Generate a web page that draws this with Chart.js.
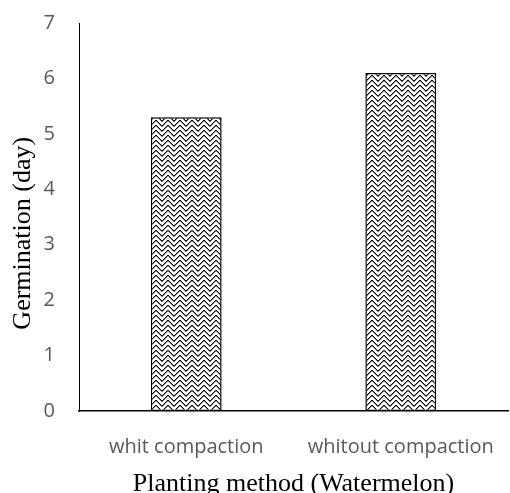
<!DOCTYPE html>
<html>
<head>
<meta charset="utf-8">
<script src="https://cdn.jsdelivr.net/npm/chart.js@4"></script>
<style>
	html, body { margin: 0; padding: 0; background: #fff; overflow: hidden; }
	canvas { display: block; }
</style>
</head>
<body>
<canvas id="germ-canvas" width="510" height="500"></canvas>
<script>
const categories = ["whit compaction", "whitout compaction"];
const germDays = [5.3, 6.1];
const yTicks = [0, 1, 2, 3, 4, 5, 6, 7];

// zigzag fill tile, close to the Excel pattern fill in the picture
function makePattern() {
	const tile = document.createElement('canvas');
	tile.width = 12;
	tile.height = 10;
	const c = tile.getContext('2d');
	c.fillStyle = '#fff';
	c.fillRect(0, 0, 12, 10);
	for (let x=0; x<12; x++) {
		const y = x < 6 ? x : 11 - x;
		c.fillStyle = '#000';
		c.fillRect(x, y, 1, 1);
		c.fillRect(x, (y + 5) % 10, 1, 1);
		c.fillStyle = '#888';
		c.fillRect(x, (y + 1) % 10, 1, 1);
		c.fillRect(x, (y + 6) % 10, 1, 1);
	}
	return c.createPattern(tile, 'repeat');
}

window.addEventListener('load', e => {
	const ctx = document.getElementById('germ-canvas').getContext('2d');
	new Chart(ctx, {
		type: 'bar',
		data: {
			labels: categories,
			datasets: [{
				data: germDays,
				backgroundColor: makePattern(),
				borderColor: '#000',
				borderWidth: 1.5,
				borderSkipped: false,
				categoryPercentage: 1,
				barPercentage: 0.33,
			}],
		},
		options: {
			responsive: false,
			animation: false,
			layout: { padding: { left: 8, right: 2, top: 23, bottom: 0 } },
			plugins: { legend: { display: false }, tooltip: { enabled: false } },
			scales: {
				x: {
					afterFit: axis => {
						axis.height = 89;
						axis.paddingLeft = 0;
						axis.paddingRight = 0;
					},
					grid: { display: false, drawTicks: false },
					border: { display: true, color: '#000', width: 1.5 },
					ticks: { color: '#595959', font: { family: 'Open Sans', size: 20 }, padding: 24, maxRotation: 0 },
					title: {
						display: true,
						text: 'Planting method (Watermelon)',
						color: '#000',
						font: { family: 'Liberation Serif', size: 26 },
						padding: 0,
					},
				},
				y: {
					min: 0,
					max: 7,
					afterFit: axis => {
						axis.width = 71;
						axis.paddingTop = 0;
						axis.paddingBottom = 0;
					},
					afterBuildTicks: axis => { axis.ticks = yTicks.map(v => ({ value: v })); },
					grid: { display: false, drawTicks: false },
					border: { display: true, color: '#000', width: 1 },
					ticks: { color: '#595959', font: { family: 'Open Sans', size: 20 }, padding: 24 },
					title: {
						display: true,
						// trailing spaces push the rotated title a bit lower, as in the picture
						text: 'Germination (day)\u00A0\u00A0\u00A0\u00A0\u00A0',
						color: '#000',
						font: { family: 'Liberation Serif', size: 26 },
						padding: 0,
					},
				},
			},
		},
	});
});
</script>
</body>
</html>
